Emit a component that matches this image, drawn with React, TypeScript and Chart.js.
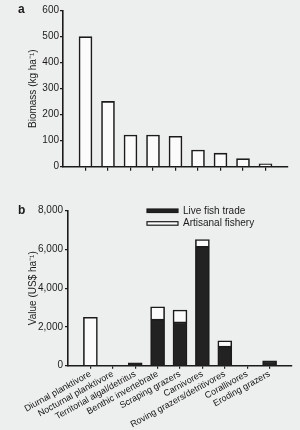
import React, { useEffect, useRef } from "react";
import { Chart, registerables } from "chart.js";

Chart.register(...registerables);

// ---- data ----
const categories = [
  "Diurnal planktivore",
  "Nocturnal planktivore",
  "Territorial algal/detritus",
  "Benthic invertebrate",
  "Scraping grazers",
  "Carnivores",
  "Roving grazers/detritivores",
  "Corallivores",
  "Eroding grazers",
];
const biomass = [500, 251, 122, 122, 117, 64, 52, 31, 11];
const liveFishTrade = [0, 0, 150, 2400, 2260, 6160, 1010, 0, 250];
const artisanalFishery = [2500, 0, 0, 640, 610, 350, 280, 0, 0];
const biomassTickStep = 100;
const biomassMax = 600;
const valueTickStep = 2000;
const valueMax = 8000;

const FONT = "'Liberation Sans', Arial, Helvetica, sans-serif";
const INK = "#1b1b1b";
const BG = "#edefee";
const WHITE = "#fbfbfb";

const panelLetter = (letter: string, x: number, y: number) => ({
  id: "panelLetter" + letter,
  afterDraw(chart: any) {
    const ctx = chart.ctx;
    ctx.save();
    ctx.fillStyle = INK;
    ctx.font = `bold 12px ${FONT}`;
    ctx.textBaseline = "alphabetic";
    ctx.textAlign = "left";
    ctx.fillText(letter, x, y);
    ctx.restore();
  },
});

const boxLegend = {
  id: "boxLegend",
  afterDraw(chart: any) {
    const ctx = chart.ctx;
    chart.data.datasets.forEach((ds: any, i: number) => {
      const x = 147;
      const y = 19 + i * 12.7;
      ctx.save();
      ctx.fillStyle = ds.backgroundColor;
      ctx.strokeStyle = INK;
      ctx.lineWidth = 1.2;
      ctx.fillRect(x, y, 31, 3.5);
      ctx.strokeRect(x, y, 31, 3.5);
      ctx.fillStyle = INK;
      ctx.font = `10px ${FONT}`;
      ctx.textBaseline = "middle";
      ctx.textAlign = "left";
      ctx.fillText(ds.label, x + 36, y + 2);
      ctx.restore();
    });
  },
};

const tickSetter = (scale: any) => {
  scale.ticks = categories.map((_, i) => ({ value: i }));
};

function BiomassChart() {
  const ref = useRef<HTMLCanvasElement>(null);
  useEffect(() => {
    const chart = new Chart(ref.current!, {
      type: "bar",
      data: {
        datasets: [
          {
            label: "Biomass",
            data: biomass.map((v, i) => ({ x: i, y: v })),
            backgroundColor: WHITE,
            borderColor: INK,
            borderWidth: 1.6,
            barThickness: 13,
          },
        ],
      },
      options: {
        animation: false,
        responsive: false,
        devicePixelRatio: 1,
        layout: { padding: { top: 10.7, right: 12, left: 0, bottom: 0 } },
        plugins: { legend: { display: false }, tooltip: { enabled: false } },
        scales: {
          x: {
            type: "linear",
            min: -1,
            max: 9,
            offset: false,
            afterBuildTicks: tickSetter,
            afterFit: (s: any) => {
              s.height = 23.3;
            },
            ticks: { display: false },
            grid: {
              display: true,
              offset: false,
              drawOnChartArea: false,
              drawTicks: true,
              tickLength: 4,
              color: INK,
              lineWidth: 1.2,
            },
            border: { display: true, color: INK, width: 1.6 },
          },
          y: {
            min: 0,
            max: biomassMax,
            afterFit: (s: any) => {
              s.width = 63;
            },
            ticks: {
              stepSize: biomassTickStep,
              padding: 1,
              color: INK,
              font: { family: FONT, size: 10 },
            },
            grid: {
              drawOnChartArea: false,
              drawTicks: true,
              tickLength: 3,
              color: INK,
              lineWidth: 1.2,
            },
            border: { display: true, color: INK, width: 1.6 },
            title: {
              display: true,
              text: "Biomass (kg ha\u207B\u00B9)",
              color: INK,
              font: { family: FONT, size: 10 },
              padding: { top: 27, bottom: 0 },
            },
          },
        },
      } as any,
      plugins: [panelLetter("a", 18, 13)],
    });
    return () => chart.destroy();
  }, []);
  return (
    <canvas
      ref={ref}
      width={300}
      height={190}
      style={{ position: "absolute", left: 0, top: 0, width: 300, height: 190 }}
    />
  );
}

function ValueChart() {
  const ref = useRef<HTMLCanvasElement>(null);
  useEffect(() => {
    const chart = new Chart(ref.current!, {
      type: "bar",
      data: {
        datasets: [
          {
            label: "Live fish trade",
            data: liveFishTrade.map((v, i) => ({ x: i, y: v })),
            backgroundColor: "#222222",
            borderColor: INK,
            borderWidth: 1.6,
            barThickness: 14,
          },
          {
            label: "Artisanal fishery",
            data: artisanalFishery.map((v, i) => ({ x: i, y: v })),
            backgroundColor: WHITE,
            borderColor: INK,
            borderWidth: 1.6,
            barThickness: 14,
          },
        ],
      },
      options: {
        animation: false,
        responsive: false,
        devicePixelRatio: 1,
        layout: { padding: { top: 20.7, right: 8, left: 0, bottom: 0 } },
        plugins: { legend: { display: false }, tooltip: { enabled: false } },
        scales: {
          x: {
            type: "linear",
            min: -1,
            max: 9,
            offset: false,
            stacked: true,
            afterBuildTicks: tickSetter,
            afterFit: (s: any) => {
              s.height = 64.3;
            },
            ticks: {
              display: true,
              autoSkip: false,
              minRotation: 29,
              maxRotation: 29,
              padding: 0,
              color: "#141414",
              font: { family: FONT, size: 9 },
              callback: (v: any) => categories[Math.round(v)] ?? "",
            },
            grid: {
              display: true,
              offset: false,
              drawOnChartArea: false,
              drawTicks: true,
              tickLength: 3,
              color: INK,
              lineWidth: 1.2,
            },
            border: { display: true, color: INK, width: 1.6 },
          },
          y: {
            min: 0,
            max: valueMax,
            stacked: true,
            afterFit: (s: any) => {
              s.width = 68;
            },
            ticks: {
              stepSize: valueTickStep,
              padding: 2,
              color: INK,
              font: { family: FONT, size: 10 },
              callback: (v: any) => Number(v).toLocaleString("en-US"),
            },
            grid: {
              drawOnChartArea: false,
              drawTicks: true,
              tickLength: 3,
              color: INK,
              lineWidth: 1.2,
            },
            border: { display: true, color: INK, width: 1.6 },
            title: {
              display: true,
              text: "Value (US$ ha\u207B\u00B9)",
              color: INK,
              font: { family: FONT, size: 10 },
              padding: { top: 27, bottom: 0 },
            },
          },
        },
      } as any,
      plugins: [panelLetter("b", 18, 24), boxLegend],
    });
    return () => chart.destroy();
  }, []);
  return (
    <canvas
      ref={ref}
      width={300}
      height={240}
      style={{ position: "absolute", left: 0, top: 190, width: 300, height: 240 }}
    />
  );
}

export default function App() {
  return (
    <div
      style={{
        position: "absolute",
        left: 0,
        top: 0,
        width: 300,
        height: 430,
        background: BG,
        overflow: "hidden",
      }}
    >
      <BiomassChart />
      <ValueChart />
    </div>
  );
}
